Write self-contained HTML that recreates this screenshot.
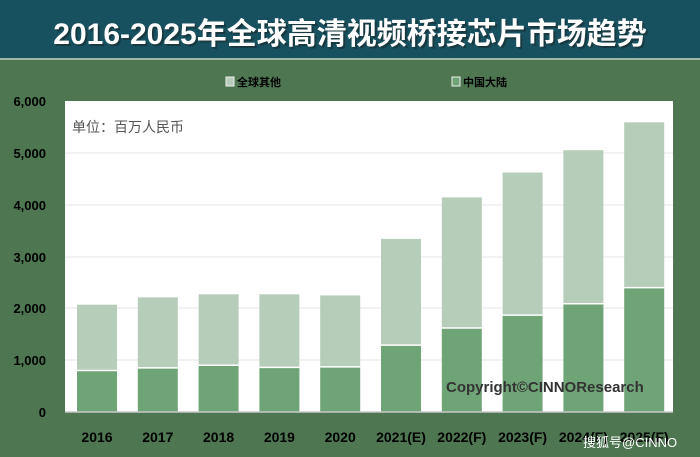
<!DOCTYPE html>
<html><head><meta charset="utf-8"><style>
body{margin:0;width:700px;height:457px;overflow:hidden;background:#4d7651;font-family:"Liberation Sans","Noto Sans CJK SC",sans-serif}
</style></head><body>
<svg width="700" height="457" xmlns="http://www.w3.org/2000/svg" style="display:block" font-family="Liberation Sans,Noto Sans CJK SC,sans-serif">
<rect x="0" y="0" width="700" height="457" fill="#4d7651"/>
<rect x="0" y="0" width="700" height="59" fill="#17515f"/>
<rect x="0" y="58" width="700" height="2" fill="#9fb8a5"/>
<text x="352" y="46" text-anchor="middle" font-size="30" font-weight="bold" fill="#1a2a2a" opacity="0.6">2016-2025年全球高清视频桥接芯片市场趋势</text>
<text x="350" y="44" text-anchor="middle" font-size="30" font-weight="bold" fill="#ffffff">2016-2025年全球高清视频桥接芯片市场趋势</text>
<rect x="226" y="77" width="8" height="9" fill="#b6cdb9" stroke="#eee" stroke-width="1"/>
<text x="237" y="86" font-size="11" font-weight="bold" fill="#000">全球其他</text>
<rect x="452" y="77" width="8" height="9" fill="#6fa476" stroke="#eee" stroke-width="1"/>
<text x="463" y="86" font-size="11" font-weight="bold" fill="#000">中国大陆</text>
<rect x="65" y="101" width="608" height="311" fill="#ffffff"/>
<g stroke="#e4e4e4" stroke-width="1">
<line x1="65" y1="153" x2="673" y2="153"/><line x1="65" y1="205" x2="673" y2="205"/>
<line x1="65" y1="257" x2="673" y2="257"/><line x1="65" y1="308" x2="673" y2="308"/>
<line x1="65" y1="360" x2="673" y2="360"/>
</g>
<g font-size="13" font-weight="bold" fill="#000" text-anchor="end">
<text x="46" y="106">6,000</text><text x="46" y="158">5,000</text><text x="46" y="210">4,000</text>
<text x="46" y="262">3,000</text><text x="46" y="313">2,000</text><text x="46" y="365">1,000</text>
<text x="46" y="417">0</text>
</g>
<text x="72" y="132" font-size="14" fill="#555">单位：百万人民币</text>
<g>
<rect x="77" y="304.7" width="40" height="65.8" fill="#b6cdb9"/><rect x="77" y="370.5" width="40" height="41.5" fill="#6fa476"/>
<rect x="137.8" y="297.4" width="40" height="70.5" fill="#b6cdb9"/><rect x="137.8" y="367.9" width="40" height="44.1" fill="#6fa476"/>
<rect x="198.6" y="294.3" width="40" height="71" fill="#b6cdb9"/><rect x="198.6" y="365.3" width="40" height="46.7" fill="#6fa476"/>
<rect x="259.4" y="294.3" width="40" height="73.1" fill="#b6cdb9"/><rect x="259.4" y="367.4" width="40" height="44.6" fill="#6fa476"/>
<rect x="320.2" y="295.4" width="40" height="71.5" fill="#b6cdb9"/><rect x="320.2" y="366.9" width="40" height="45.1" fill="#6fa476"/>
<rect x="381" y="238.9" width="40" height="106.2" fill="#b6cdb9"/><rect x="381" y="345.1" width="40" height="66.9" fill="#6fa476"/>
<rect x="441.8" y="197.4" width="40" height="130.6" fill="#b6cdb9"/><rect x="441.8" y="328" width="40" height="84" fill="#6fa476"/>
<rect x="502.6" y="172.5" width="40" height="142.6" fill="#b6cdb9"/><rect x="502.6" y="315.1" width="40" height="96.9" fill="#6fa476"/>
<rect x="563.4" y="150.2" width="40" height="153.5" fill="#b6cdb9"/><rect x="563.4" y="303.7" width="40" height="108.3" fill="#6fa476"/>
<rect x="624.2" y="122.3" width="40" height="165.3" fill="#b6cdb9"/><rect x="624.2" y="287.6" width="40" height="124.4" fill="#6fa476"/>
</g>
<g stroke="#fff" stroke-width="1.5">
<line x1="77" y1="370.5" x2="117" y2="370.5"/><line x1="137.8" y1="367.9" x2="177.8" y2="367.9"/>
<line x1="198.6" y1="365.3" x2="238.6" y2="365.3"/><line x1="259.4" y1="367.4" x2="299.4" y2="367.4"/>
<line x1="320.2" y1="366.9" x2="360.2" y2="366.9"/><line x1="381" y1="345.1" x2="421" y2="345.1"/>
<line x1="441.8" y1="328" x2="481.8" y2="328"/><line x1="502.6" y1="315.1" x2="542.6" y2="315.1"/>
<line x1="563.4" y1="303.7" x2="603.4" y2="303.7"/><line x1="624.2" y1="287.6" x2="664.2" y2="287.6"/>
</g>
<line x1="65" y1="412" x2="673" y2="412" stroke="#c8c8c8" stroke-width="1.5"/>
<text x="446" y="392" font-size="15" font-weight="bold" fill="#333">Copyright©CINNOResearch</text>
<g font-size="14" font-weight="bold" fill="#000" text-anchor="middle">
<text x="97" y="442">2016</text><text x="157.8" y="442">2017</text><text x="218.6" y="442">2018</text>
<text x="279.4" y="442">2019</text><text x="340.2" y="442">2020</text><text x="401" y="442">2021(E)</text>
<text x="461.8" y="442">2022(F)</text><text x="522.6" y="442">2023(F)</text><text x="583.4" y="442">2024(F)</text>
<text x="644.2" y="442">2025(F)</text>
</g>
<text x="583" y="447" font-size="13" fill="#fff">搜狐号@CINNO</text>
</svg>
</body></html>
